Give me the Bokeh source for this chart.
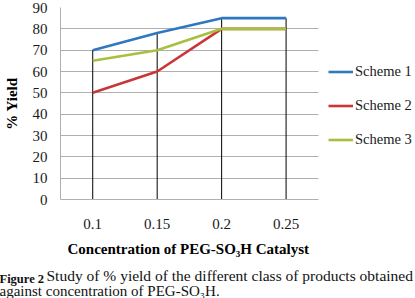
from bokeh.plotting import figure
from bokeh.models import Range1d, Legend, LegendItem, Title, FixedTicker, Grid
from bokeh.embed import file_html
from bokeh.resources import INLINE

categories = ["0.1", "0.15", "0.2", "0.25"]
scheme1 = [70, 78, 85, 85]
scheme2 = [50, 60, 80, 80]
scheme3 = [65, 70, 80, 80]
y_ticks = [0, 10, 20, 30, 40, 50, 60, 70, 80, 90]
series_names = ["Scheme 1", "Scheme 2", "Scheme 3"]
x_title = "Concentration of PEG-SO\u2083H Catalyst"
y_title = "% Yield"
caption_bold = "Figure 2"
caption_line1 = "Study of % yield of the different class of products obtained"
caption_line2 = "against concentration of PEG-SO\u2083H."

SERIF = "Liberation Serif"
colors = ["#2E79BE", "#C8363A", "#A8C03F"]

# category positions (1..n); the frame extends to the right so the legend is not clipped
xpos = list(range(1, len(categories) + 1))
n = len(categories)
x_lo, x_hi = 0.5, n + 0.5
frame_w, area_w = 415 - 57, 317 - 57

p = figure(width=415, height=298, output_backend="svg", toolbar_location=None,
           x_range=Range1d(x_lo, x_lo + n * frame_w / area_w),
           y_range=Range1d(0, 90),
           min_border_left=57, min_border_right=0, min_border_top=7, min_border_bottom=99)
p.outline_line_color = None
p.background_fill_color = "white"
p.border_fill_color = "white"

# grid
p.xgrid.grid_line_color = None
p.ygrid.grid_line_color = "#AFAFAF"
p.ygrid.ticker = FixedTicker(ticks=y_ticks)
if "cross_bounds" in Grid.properties():
    p.ygrid.cross_bounds = (x_lo, x_hi)
else:
    p.ygrid.grid_line_color = None
    p.segment(x0=[x_lo] * len(y_ticks), x1=[x_hi] * len(y_ticks), y0=y_ticks, y1=y_ticks,
              line_color="#AFAFAF", line_width=1)

# axes
p.yaxis.ticker = FixedTicker(ticks=y_ticks)
p.xaxis.ticker = FixedTicker(ticks=xpos)
p.xaxis.major_label_overrides = {x: c for x, c in zip(xpos, categories)}
p.xaxis.bounds = (x_lo, x_hi)
for ax in (p.xaxis[0], p.yaxis[0]):
    ax.axis_line_color = "#AFAFAF"
    ax.major_tick_line_color = None
    ax.minor_tick_line_color = None
    ax.major_tick_out = 0
    ax.major_tick_in = 0
    ax.major_label_text_font = SERIF
    ax.major_label_text_font_size = "15px"
    ax.major_label_text_color = "#1a1a1a"
    ax.axis_label_text_font = SERIF
    ax.axis_label_text_font_size = "15px"
    ax.axis_label_text_font_style = "bold"
    ax.axis_label_text_color = "black"

p.xaxis.axis_label = None
p.xaxis.major_label_standoff = 19
p.yaxis.axis_label = y_title
p.yaxis.major_label_standoff = 13
p.yaxis.axis_label_standoff = 10

# drop lines
tops = [max(a, b, c) for a, b, c in zip(scheme1, scheme2, scheme3)]
p.segment(x0=xpos, y0=[0] * n, x1=xpos, y1=tops, line_color="black", line_width=1)

renderers = []
for vals, col in zip([scheme1, scheme2, scheme3], colors):
    r = p.line(xpos, vals, line_color=col, line_width=2.6)
    renderers.append(r)

legend = Legend(items=[LegendItem(label=s, renderers=[r]) for s, r in zip(series_names, renderers)],
                location=(268, 50), orientation="vertical",
                glyph_width=25, glyph_height=19, label_height=19, spacing=15,
                label_standoff=2, padding=0, margin=0,
                border_line_color=None, background_fill_alpha=0,
                label_text_font=SERIF, label_text_font_size="14.5px",
                label_text_color="#1a1a1a")
p.add_layout(legend, "center")

# x-axis title (centred under the plot area) and caption, stacked below the axis
p.add_layout(Title(text=x_title, align="left", offset=7, standoff=18,
                   vertical_align="top", text_font=SERIF, text_font_size="15px",
                   text_font_style="bold", text_color="black"), "below")
p.add_layout(Title(text=caption_line1, align="left", offset=-14, standoff=-1,
                   vertical_align="top", text_font=SERIF, text_font_size="15.5px",
                   text_font_style="normal", text_color="#111111"), "below")
p.add_layout(Title(text=caption_line2, align="left", offset=-61, standoff=-6,
                   vertical_align="top", text_font=SERIF, text_font_size="15px",
                   text_font_style="normal", text_color="#111111"), "below")
# bold "Figure 2" lifted back onto the first caption line
p.add_layout(Title(text=caption_bold, align="left", offset=-61, standoff=-52,
                   vertical_align="top", text_font=SERIF, text_font_size="12.5px",
                   text_font_style="bold", text_color="#111111"), "below")

html = file_html(p, INLINE)
html = html.replace("<head>", "<head><style>html,body{margin:0;padding:0;}</style>", 1)
open("out.html", "w").write(html)
